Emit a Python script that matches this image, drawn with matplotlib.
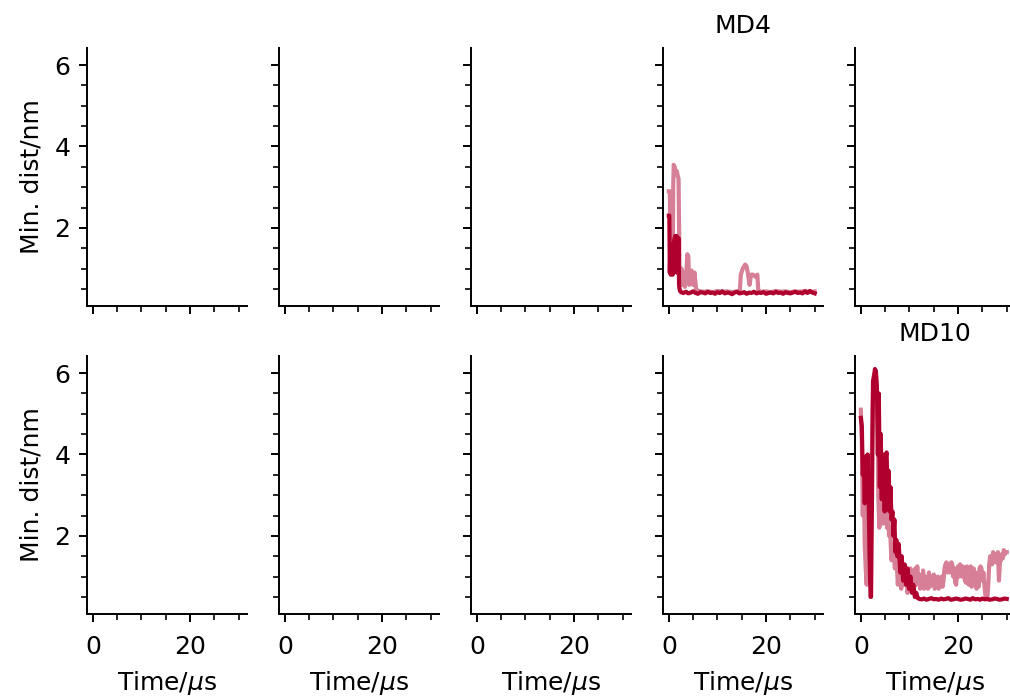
import numpy as np
import matplotlib
matplotlib.use("Agg")
import matplotlib.pyplot as plt
from matplotlib.ticker import MultipleLocator

# ---- data ----
md4_t_dark = [0, 0.1, 0.2, 0.3, 0.4, 0.5, 0.6, 0.7, 0.8, 0.9, 1.0, 1.1, 1.2, 1.3,
              1.4, 1.5, 1.6, 1.7, 1.8, 1.9, 2.0, 2.1, 2.2, 2.3, 2.5,
              3.0, 3.5, 4.0, 4.5, 5.0, 5.5, 6.0, 6.5, 7.0, 7.5, 8.0, 8.5, 9.0,
              9.5, 10.0, 10.5, 11.0, 11.5, 12.0, 12.5, 13.0, 13.5, 14.0, 14.5,
              15.0, 15.5, 16.0, 16.5, 17.0, 17.5, 18.0, 18.5, 19.0, 19.5, 20.0,
              20.5, 21.0, 21.5, 22.0, 22.5, 23.0, 23.5, 24.0, 24.5, 25.0, 25.5,
              26.0, 26.5, 27.0, 27.5, 28.0, 28.5, 29.0, 29.5, 30.0]
md4_dark = [2.3, 2.3, 0.9, 1.5, 0.85, 1.3, 0.9, 1.6, 0.85, 1.2, 0.9, 1.7, 1.75,
            1.8, 1.0, 1.75, 1.8, 0.9, 1.7, 1.2, 1.75, 0.6, 0.5, 0.45, 0.42,
            0.40, 0.43, 0.39, 0.41, 0.44, 0.40, 0.38, 0.42, 0.41, 0.39, 0.43,
            0.40, 0.41, 0.38, 0.42, 0.40, 0.44, 0.39, 0.41, 0.40, 0.37, 0.41,
            0.43, 0.39, 0.40, 0.42, 0.38, 0.41, 0.40, 0.43, 0.39, 0.41, 0.40,
            0.42, 0.38, 0.40, 0.41, 0.39, 0.43, 0.40, 0.41, 0.38, 0.42, 0.40,
            0.39, 0.41, 0.43, 0.40, 0.41, 0.39, 0.44, 0.40, 0.45, 0.41, 0.39]

md4_t_light = [0, 0.2, 0.3, 0.5, 0.7, 0.8, 0.9, 1.0, 1.2, 1.4, 1.6, 1.8, 2.0,
               2.2, 2.4, 2.6, 2.8, 3.0, 3.3, 3.6, 3.8, 4.0, 4.2, 4.5, 4.7, 5.0,
               5.3, 5.6, 6.0, 7.0, 8.0, 9.0, 10.0, 11.0, 12.0, 13.0, 14.0,
               14.6, 14.8, 15.2, 15.7, 16.0, 16.3, 16.6, 16.9, 17.3, 17.8,
               18.2, 18.4, 19.0, 20.0, 21.0, 22.0, 23.0, 24.0, 25.0, 26.0,
               27.0, 28.0, 29.0, 30.0]
md4_light = [2.9, 2.9, 1.9, 1.0, 2.2, 1.0, 3.0, 3.55, 3.5, 3.3, 3.4, 3.3, 3.2,
             1.0, 0.7, 1.0, 0.6, 0.9, 0.55, 0.9, 1.35, 1.3, 0.6, 0.9, 0.95, 0.6,
             0.9, 0.5, 0.45, 0.43, 0.44, 0.42, 0.45, 0.43, 0.44, 0.42, 0.44,
             0.45, 0.85, 1.0, 1.1, 1.05, 0.85, 0.6, 0.85, 0.85, 0.8,
             0.85, 0.45, 0.43, 0.44, 0.42, 0.45, 0.43, 0.44, 0.42, 0.44,
             0.43, 0.45, 0.42, 0.44]

md10_t_dark = [0, 0.2, 0.4, 0.6, 0.8, 1.0, 1.2, 1.4, 1.6, 1.8, 2.0, 2.1, 2.3,
               2.5, 2.7, 2.9, 3.1, 3.3, 3.5, 3.7, 3.9, 4.1, 4.3, 4.5, 4.7, 4.9,
               5.1, 5.3, 5.5, 5.7, 5.9, 6.1, 6.3, 6.5, 6.7, 6.9, 7.1, 7.3, 7.5,
               7.8, 8.1, 8.4, 8.7, 9.0, 9.3, 9.6, 9.9, 10.2, 10.5, 10.8, 11.1,
               11.4, 11.7, 12.0, 12.5, 13.0, 13.5, 14.0, 14.5, 15.0, 15.5, 16.0,
               16.5, 17.0, 17.5, 18.0, 18.5, 19.0, 19.5, 20.0, 20.5, 21.0, 21.5,
               22.0, 22.5, 23.0, 23.5, 24.0, 24.5, 25.0, 25.5, 26.0, 26.5, 27.0,
               27.5, 28.0, 28.5, 29.0, 29.5, 30.0]
md10_dark = [4.9, 4.7, 3.5, 3.9, 2.8, 3.95, 3.6, 4.0, 3.0, 1.5, 0.5, 0.5, 3.0,
             5.8, 5.9, 6.1, 6.05, 5.7, 4.0, 5.5, 3.2, 4.5, 2.9, 4.0, 3.8, 2.6,
             3.95, 4.05, 3.0, 3.6, 2.6, 3.2, 2.4, 2.6, 2.0, 2.4, 1.6, 1.9, 1.5,
             1.8, 1.1, 1.5, 0.9, 1.3, 0.8, 1.2, 0.7, 1.0, 0.6, 0.8, 0.5, 0.6,
             0.47, 0.45, 0.44, 0.46, 0.43, 0.45, 0.47, 0.44, 0.45, 0.43, 0.46,
             0.44, 0.45, 0.47, 0.43, 0.44, 0.46, 0.45, 0.43, 0.44, 0.46, 0.45,
             0.43, 0.47, 0.44, 0.45, 0.43, 0.46, 0.44, 0.45, 0.43, 0.44, 0.46,
             0.45, 0.43, 0.44, 0.46, 0.45]

md10_t_light = [0, 0.2, 0.4, 0.6, 0.8, 1.0, 1.2, 1.4, 1.6, 1.8, 2.0, 2.2, 2.4,
                2.6, 2.8, 3.0, 3.2, 3.4, 3.6, 3.8, 4.0, 4.2, 4.4, 4.6, 4.8, 5.0,
                5.2, 5.4, 5.6, 5.8, 6.0, 6.3, 6.6, 7.0, 7.3, 7.6, 8.0, 8.3, 8.6,
                9.0, 9.3, 9.6, 10.0, 10.2, 10.4, 10.6, 10.8, 11.0, 11.2, 11.4,
                11.6, 11.8, 12.0, 12.2, 12.4, 12.6, 12.8, 13.0, 13.2, 13.4, 13.6,
                13.8, 14.0, 14.2, 14.4, 14.6, 14.8, 15.0, 15.2, 15.4, 15.6, 15.8,
                16.0, 16.2, 16.4, 16.6, 16.8, 17.0, 17.2, 17.4, 17.6, 17.8, 18.0,
                18.2, 18.4, 18.6, 18.8, 19.0, 19.2, 19.4, 19.6, 19.8, 20.0, 20.2,
                20.4, 20.6, 20.8, 21.0, 21.2, 21.4, 21.6, 21.8, 22.0, 22.2, 22.4,
                22.6, 22.8, 23.0, 23.2, 23.4, 23.6, 23.8, 24.0, 24.2, 24.4, 24.6,
                24.8, 25.0, 25.2, 25.4, 25.6, 25.8, 26.0, 26.2, 26.4, 26.6, 26.8,
                27.0, 27.2, 27.4, 27.6, 27.8, 28.0, 28.2, 28.4, 28.6, 28.8, 29.0,
                29.2, 29.4, 29.6, 29.8, 30.0]
md10_light = [5.1, 4.4, 2.5, 3.5, 1.8, 1.2, 0.8, 2.0, 3.0, 3.2, 2.4, 3.5, 5.0,
              5.9, 6.0, 5.9, 5.6, 5.4, 3.0, 2.2, 3.5, 2.4, 2.9, 2.3, 3.2, 2.8,
              3.6, 2.2, 2.5, 2.0, 2.2, 1.4, 1.8, 1.2, 1.6, 0.8, 1.3, 0.7, 1.1,
              0.8, 1.2, 0.6, 0.9, 1.2, 0.7, 1.1, 1.0, 0.75, 1.2, 0.8,
              1.25, 0.9, 1.05, 0.7, 1.0, 0.8, 1.15, 0.7, 1.0, 0.8, 0.95,
              0.7, 1.1, 0.75, 1.0, 0.8, 0.9, 1.05, 0.7, 0.95, 0.75, 1.0,
              0.7, 0.95, 0.8, 1.0, 0.75, 0.9, 1.2, 1.3, 1.35, 1.1, 1.25,
              1.3, 1.1, 1.35, 1.3, 1.0, 1.2, 0.85, 0.8, 1.2, 1.25, 1.0,
              1.3, 1.05, 1.0, 1.25, 1.2, 0.9, 0.85, 1.25, 1.15, 0.8, 1.2,
              1.25, 0.75, 1.1, 1.2, 0.8, 1.1, 0.7, 1.0, 0.75, 1.2, 1.25,
              1.2, 0.9, 1.1, 0.8, 0.55, 0.5, 0.45, 0.8, 1.3, 1.5, 1.45,
              1.3, 1.6, 1.5, 1.55, 1.35, 1.5, 1.6, 0.9, 1.35, 1.4, 1.55,
              1.45, 1.65, 1.55, 1.6, 1.6]

# panel (row, col) -> (title, dark series, light series)
panels = {
    (0, 3): ("MD4", (md4_t_dark, md4_dark), (md4_t_light, md4_light)),
    (1, 4): ("MD10", (md10_t_dark, md10_dark), (md10_t_light, md10_light)),
}

dark_col = "#b0002e"

plt.rcParams['font.family'] = ['DejaVu Sans']
plt.rcParams['font.size'] = 18

W, H = 1010, 698
fig = plt.figure(figsize=(W / 100, H / 100), dpi=100)

for r in range(2):
    for c in range(5):
        left = (87 + 192 * c) / W
        top = 48 + 308 * r
        ax = fig.add_axes([left, 1 - (top + 258) / H, 160 / W, 258 / H])
        ax.set_xlim(-1.2, 31.7)
        ax.set_ylim(0.08, 6.42)
        for s in ("top", "right"):
            ax.spines[s].set_visible(False)
        for s in ("left", "bottom"):
            ax.spines[s].set_linewidth(1.4)
        ax.set_xticks([0, 20])
        ax.set_yticks([2, 4, 6])
        ax.xaxis.set_minor_locator(MultipleLocator(5))
        ax.yaxis.set_minor_locator(MultipleLocator(0.5))
        ax.tick_params(which="major", length=6, width=1.4, labelsize=18)
        ax.tick_params(axis="x", which="major", pad=9)
        ax.tick_params(axis="y", which="major", pad=6)
        ax.tick_params(which="minor", length=4, width=1.2)
        if c > 0:
            ax.tick_params(labelleft=False)
        else:
            ax.set_ylabel("Min. dist/nm", fontsize=18, labelpad=8)
        if r == 0:
            ax.tick_params(labelbottom=False)
        else:
            ax.set_xlabel("Time/$\\mu$s", fontsize=18, labelpad=7)

        if (r, c) in panels:
            title, dark, light = panels[(r, c)]
            ax.plot(light[0], light[1], color=dark_col, alpha=0.5, lw=3)
            ax.plot(dark[0], dark[1], color=dark_col, lw=3)
            ax.set_title(title, fontsize=18, pad=11)

fig.savefig("out.png", dpi=100)
